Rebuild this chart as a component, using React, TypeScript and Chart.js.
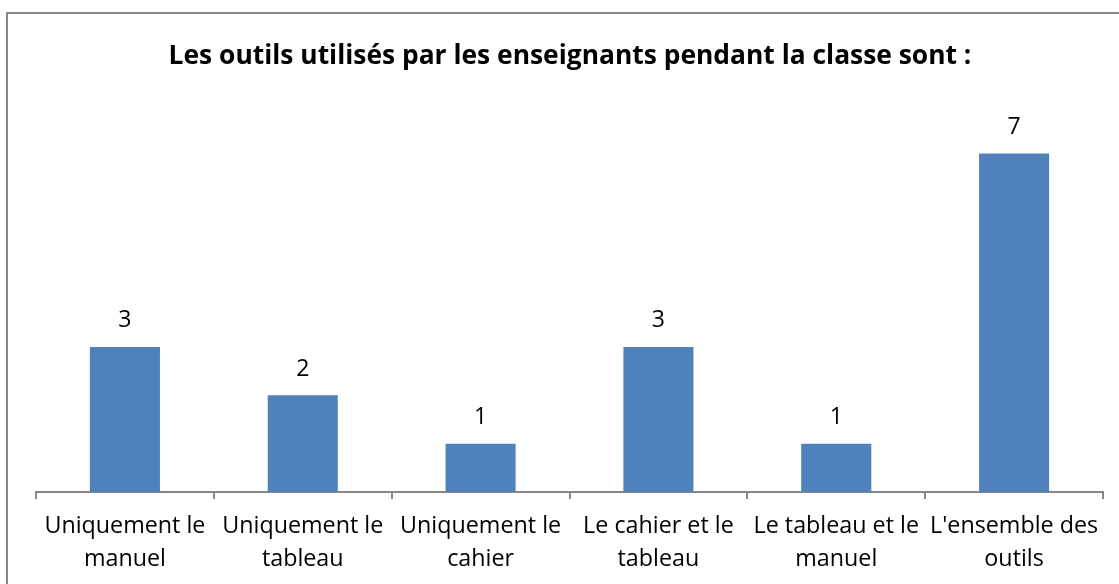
import React, { useEffect, useRef } from "react";
import { Chart, registerables } from "chart.js";

Chart.register(...registerables);

const titleText = "Les outils utilisés par les enseignants pendant la classe sont :";
const categories: string[][] = [
  ["Uniquement le", "manuel"],
  ["Uniquement le", "tableau"],
  ["Uniquement le", "cahier"],
  ["Le cahier et le", "tableau"],
  ["Le tableau et le", "manuel"],
  ["L'ensemble des", "outils"],
];
const values: number[] = [3, 2, 1, 3, 1, 7];

const FONT = "'Open Sans', 'Noto Sans', sans-serif";
const GRAY = "#878787";

const decorPlugin = {
  id: "decor",
  beforeDraw(chart: any) {
    const ctx = chart.ctx;
    ctx.save();
    ctx.fillStyle = "#ffffff";
    ctx.fillRect(0, 0, chart.width, chart.height);
    ctx.strokeStyle = GRAY;
    ctx.lineWidth = 2;
    ctx.beginPath();
    ctx.moveTo(7, chart.height + 2);
    ctx.lineTo(7, 13);
    ctx.lineTo(chart.width + 2, 13);
    ctx.stroke();
    ctx.fillStyle = "#000";
    ctx.font = `bold 26.4px ${FONT}`;
    ctx.textAlign = "center";
    ctx.textBaseline = "middle";
    ctx.fillText(titleText, 570, 56);
    ctx.restore();
  },
  afterDatasetsDraw(chart: any) {
    const ctx = chart.ctx;
    const meta = chart.getDatasetMeta(0);
    ctx.save();
    ctx.fillStyle = "#000";
    ctx.font = `23px ${FONT}`;
    ctx.textAlign = "center";
    ctx.textBaseline = "middle";
    meta.data.forEach((bar: any, i: number) => {
      ctx.fillText(String(values[i]), bar.x, bar.y - 26);
    });
    ctx.restore();
  },
};

export default function App() {
  const ref = useRef<HTMLCanvasElement | null>(null);
  useEffect(() => {
    if (!ref.current) return;
    const chart = new Chart(ref.current, {
      type: "bar",
      data: {
        labels: categories,
        datasets: [
          {
            data: values,
            backgroundColor: "#4F81BD",
            borderWidth: 0,
            barPercentage: 0.394,
            categoryPercentage: 1,
          },
        ],
      },
      options: {
        responsive: false,
        animation: false,
        layout: { padding: { left: 36, right: 16, top: 105, bottom: 0 } },
        plugins: {
          legend: { display: false },
          title: { display: false },
          tooltip: { enabled: false },
        },
        scales: {
          y: { display: false, min: 0, max: 8 },
          x: {
            afterFit(scale: any) {
              scale.height = 92;
            },
            grid: {
              offset: true,
              drawOnChartArea: false,
              drawTicks: true,
              tickLength: 7,
              color: GRAY,
              lineWidth: 2,
            },
            border: { display: true, color: GRAY, width: 2 },
            ticks: {
              color: "#000",
              padding: 11,
              maxRotation: 0,
              autoSkip: false,
              font: { family: FONT, size: 23.3, lineHeight: 1.4 },
            },
          },
        },
      },
      plugins: [decorPlugin],
    });
    return () => chart.destroy();
  }, []);
  return (
    <div style={{ position: "fixed", left: 0, top: 0, width: 1119, height: 584, overflow: "hidden" }}>
      <canvas ref={ref} width={1119} height={584} style={{ display: "block" }} />
    </div>
  );
}
